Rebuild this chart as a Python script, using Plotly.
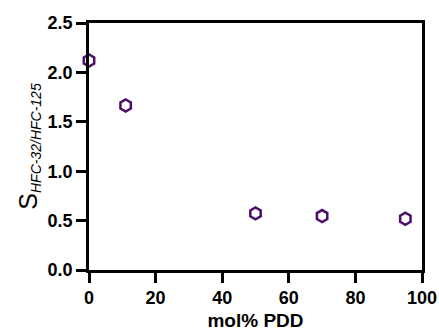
import plotly.graph_objects as go

mol_pdd = [0, 11, 50, 70, 95]
selectivity = [2.12, 1.665, 0.573, 0.546, 0.519]

x_ticks = [0, 20, 40, 60, 80, 100]
y_ticks = [0.0, 0.5, 1.0, 1.5, 2.0, 2.5]

FONT = "Liberation Sans, Arial, sans-serif"

fig = go.Figure(go.Scatter(
    x=mol_pdd, y=selectivity, mode="markers",
    marker=dict(symbol="hexagon-open", size=12, color="#4B0F6B",
                line=dict(width=2.5, color="#4B0F6B")),
    cliponaxis=False,
))

axis_common = dict(showgrid=False, zeroline=False, showline=True, linecolor="black",
                   linewidth=2.5, ticks="outside", ticklen=10, tickwidth=2.5, tickcolor="black",
                   mirror=True, automargin=False,
                   tickfont=dict(family=FONT, size=18, color="black"))

fig.update_xaxes(range=[0, 100], tickvals=x_ticks,
                 ticktext=[f"<b>{v}</b>" for v in x_ticks], **axis_common,
                 title=dict(text="<b>mol% PDD</b>", font=dict(family=FONT, size=19, color="black"), standoff=7))
fig.update_yaxes(range=[0, 2.5], tickvals=y_ticks,
                 ticktext=[f"<b>{v:.1f}</b>" for v in y_ticks], **axis_common,
                 title=dict(text="<span style='font-size:25px'>S</span><sub><i>HFC-32/HFC-125</i></sub>",
                            font=dict(family=FONT, size=20, color="black"), standoff=5))

fig.update_layout(width=439, height=334, margin=dict(l=89, r=17, t=23, b=64),
                  plot_bgcolor="white", paper_bgcolor="white", showlegend=False)

fig.write_html("out.html", config={"displayModeBar": False},
               post_script="document.body.style.margin='0';document.body.style.overflow='hidden';")
